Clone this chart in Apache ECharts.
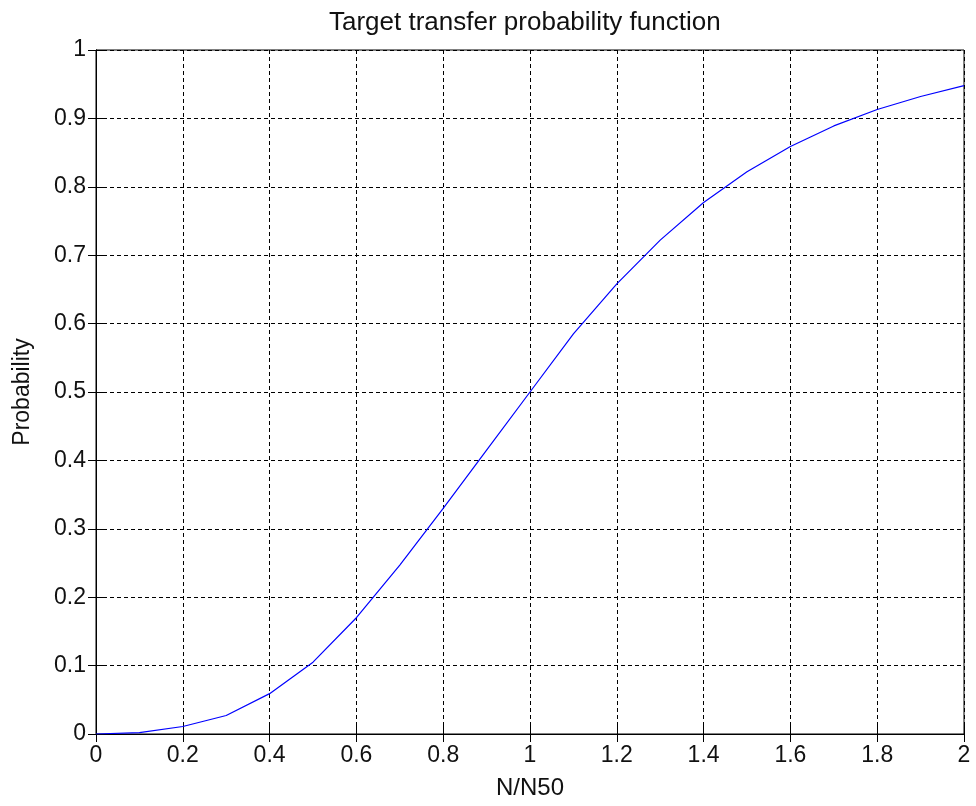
<!DOCTYPE html>
<html>
<head>
<meta charset="utf-8">
<script src="https://cdn.jsdelivr.net/npm/echarts@6/dist/echarts.min.js"></script>
<style>
  html, body { margin: 0; padding: 0; background: #fff; }
  #chart { width: 976px; height: 806px; }
</style>
</head>
<body>
<div id="chart"></div>
<script>
// N/N50 sample points and probability values
const ratio = [0, 0.1, 0.2, 0.3, 0.4, 0.5, 0.6, 0.7, 0.8, 0.9, 1.0,
               1.1, 1.2, 1.3, 1.4, 1.5, 1.6, 1.7, 1.8, 1.9, 2.0];
const probability = [0, 0.002, 0.011, 0.027, 0.059, 0.105, 0.170, 0.247, 0.330, 0.415, 0.500,
                     0.585, 0.658, 0.722, 0.777, 0.822, 0.859, 0.889, 0.913, 0.932, 0.948];

const font = 'Liberation Sans, Arial, sans-serif';

var myChart = echarts.init(document.getElementById('chart'));

const gridDash = { show: true, lineStyle: { color: '#000', width: 1, type: [4, 3] } };
const tickIn = { show: true, inside: true, length: 8, lineStyle: { color: '#000', width: 1 } };

myChart.setOption({
  backgroundColor: '#fff',
  animation: false,
  title: {
    text: 'Target transfer probability function',
    left: 324,
    top: 5,
    textStyle: { fontFamily: font, fontSize: 26, fontWeight: 'normal', color: '#111' }
  },
  grid: {
    left: 96, right: 12, top: 50, bottom: 72,
    show: true, borderColor: '#000', borderWidth: 1, backgroundColor: '#fff'
  },
  xAxis: [
    {
      type: 'value', min: 0, max: 2, interval: 0.2,
      name: 'N/N50', nameLocation: 'middle', nameGap: 42,
      nameTextStyle: { fontFamily: font, fontSize: 24, color: '#111' },
      axisLine: { show: true, lineStyle: { color: '#000', width: 1 } },
      axisTick: tickIn,
      splitLine: gridDash,
      axisLabel: { fontFamily: font, fontSize: 23, color: '#111', margin: 10 }
    },
    {
      type: 'value', min: 0, max: 2, interval: 0.2, position: 'top',
      axisLine: { show: true, lineStyle: { color: '#000', width: 1 } },
      axisTick: tickIn, splitLine: { show: false }, axisLabel: { show: false }
    }
  ],
  yAxis: [
    {
      type: 'value', min: 0, max: 1, interval: 0.1,
      name: 'Probability', nameLocation: 'middle', nameGap: 62,
      nameTextStyle: { fontFamily: font, fontSize: 23, color: '#111' },
      axisLine: { show: true, lineStyle: { color: '#000', width: 1 } },
      axisTick: tickIn,
      splitLine: gridDash,
      axisLabel: { fontFamily: font, fontSize: 23, color: '#111', margin: 10 }
    },
    {
      type: 'value', min: 0, max: 1, interval: 0.1, position: 'right',
      axisLine: { show: true, lineStyle: { color: '#000', width: 1 } },
      axisTick: tickIn, splitLine: { show: false }, axisLabel: { show: false }
    }
  ],
  series: [
    {
      type: 'line',
      data: ratio.map((x, i) => [x, probability[i]]),
      showSymbol: false,
      lineStyle: { color: '#0000ff', width: 1.2 },
      z: 5
    }
  ]
});
</script>
</body>
</html>
